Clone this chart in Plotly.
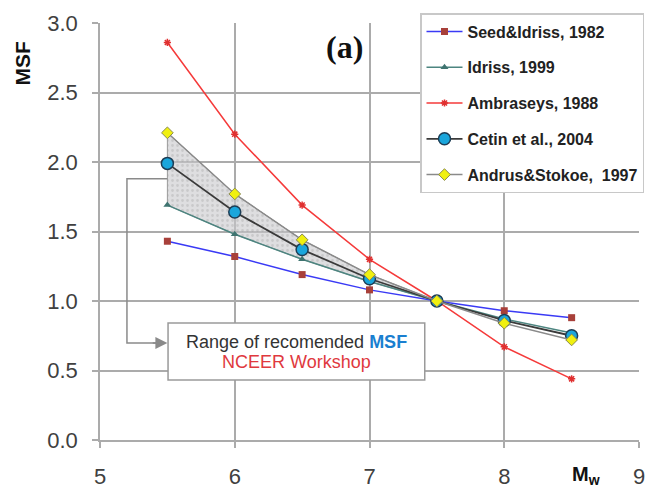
import plotly.graph_objects as go

# Magnitude scaling factor (MSF) versus moment magnitude
mw = [5.5, 6.0, 6.5, 7.0, 7.5, 8.0, 8.5]
seed_idriss_1982 = [1.43, 1.32, 1.19, 1.08, 1.00, 0.93, 0.88]
idriss_1999 = [1.69, 1.48, 1.30, 1.14, 1.00, 0.87, 0.77]
ambraseys_1988 = [2.86, 2.20, 1.69, 1.30, 1.00, 0.67, 0.44]
cetin_2004 = [1.99, 1.64, 1.37, 1.16, 1.00, 0.86, 0.75]
andrus_stokoe_1997 = [2.21, 1.77, 1.44, 1.19, 1.00, 0.84, 0.72]

x_ticks = [5, 6, 7, 8, 9]
y_ticks = [0.0, 0.5, 1.0, 1.5, 2.0, 2.5, 3.0]

FONT = "Arial, 'Liberation Sans', sans-serif"
GRID = "#ababab"

# plot-area geometry in pixels (used to place paper-referenced labels)
L, R, T, B, W, H = 100, 6, 23, 51, 645, 491
PW, PH = W - L - R, H - T - B


def px_to_paper(px, py):
    return (px - L) / PW, (H - B - py) / PH


fig = go.Figure()

# Recommended range band (NCEER workshop): Andrus&Stokoe upper bound, Idriss lower bound up to Mw 7.5
n_band = mw.index(7.5) + 1
band_x = mw[:n_band] + mw[:n_band][::-1] + [mw[0]]
band_y = andrus_stokoe_1997[:n_band] + idriss_1999[:n_band][::-1] + [andrus_stokoe_1997[0]]
fig.add_trace(go.Scatter(
    x=band_x, y=band_y, mode="lines", fill="toself",
    fillcolor="rgba(175,175,178,0.55)",
    fillpattern=dict(shape=".", fgcolor="rgba(140,140,140,0.5)", bgcolor="rgba(200,200,203,0.6)",
                     size=5, solidity=0.25),
    line=dict(color="#9a9a9a", width=1), showlegend=False, hoverinfo="skip",
))

series = [
    ("Seed&Idriss, 1982", seed_idriss_1982, "#3a3af5", 1.5,
     dict(symbol="square", size=7, color="#a8403a", line=dict(width=0))),
    ("Idriss, 1999", idriss_1999, "#4d8580", 1.5,
     dict(symbol="triangle-up", size=7, color="#3f7470", line=dict(width=0))),
    ("Ambraseys, 1988", ambraseys_1988, "#f53a3a", 1.5,
     dict(symbol="asterisk", size=6, color="#e03030", line=dict(width=1.5, color="#e03030"))),
    ("Cetin et al., 2004", cetin_2004, "#3a3a3a", 1.8,
     dict(symbol="circle", size=12, color="#1aa6dc", line=dict(width=1.5, color="#1d3d55"))),
    ("Andrus&Stokoe,  1997", andrus_stokoe_1997, "#8a8a8a", 1.5,
     dict(symbol="diamond", size=9, color="#f0f010", line=dict(width=1, color="#8a8a50"))),
]
for i, (name, ys, lc, lw, mk) in enumerate(series):
    fig.add_trace(go.Scatter(
        x=mw, y=ys, name=name, mode="lines+markers",
        line=dict(color=lc, width=lw), marker=mk, legendgroup=f"g{i}",
    ))

# Callout: elbow connector from the band to the label box
fig.add_shape(type="path", path="M 5.50 1.879 L 5.20 1.879 L 5.20 0.698 L 5.42 0.698",
              line=dict(color="#8a8a8a", width=1.5), layer="above")
fig.add_annotation(x=5.50, y=0.698, ax=5.38, ay=0.698, axref="x", ayref="y",
                   text="", showarrow=True, arrowhead=2, arrowsize=1.5,
                   arrowwidth=1.6, arrowcolor="#8a8a8a")
fig.add_shape(type="rect", x0=5.505, x1=7.41, y0=0.432, y1=0.842,
              line=dict(color="#9a9a9a", width=1.5), fillcolor="white", layer="above")
fig.add_annotation(
    x=6.455, y=0.706, showarrow=False, xanchor="center", yanchor="middle",
    text="Range of recomended <b><span style='color:#1a7fd0'>MSF</span></b>",
    font=dict(family=FONT, size=18, color="#333333"),
)
fig.add_annotation(
    x=6.455, y=0.562, showarrow=False, xanchor="center", yanchor="middle",
    text="NCEER Workshop",
    font=dict(family=FONT, size=18, color="#e0393e"),
)

# Panel label and axis titles
ax_, ay_ = px_to_paper(344, 47)
fig.add_annotation(x=ax_, y=ay_, xref="paper", yref="paper", showarrow=False,
                   xanchor="center", yanchor="middle", text="<b>(a)</b>",
                   font=dict(family="'Liberation Serif', 'Times New Roman', serif", size=32, color="#111111"))
mx, my = px_to_paper(22.5, 63)
fig.add_annotation(x=mx, y=my, xref="paper", yref="paper", showarrow=False, textangle=-90,
                   xanchor="center", yanchor="middle",
                   text="<b>MSF</b>", font=dict(family=FONT, size=21, color="#111111"))
wx, wy = px_to_paper(586, 476)
fig.add_annotation(x=wx, y=wy, xref="paper", yref="paper", showarrow=False,
                   xanchor="center", yanchor="middle",
                   text="<b>M<sub>w</sub></b>", font=dict(family=FONT, size=20, color="#111111"))

axis_common = dict(
    showgrid=True, gridcolor=GRID, gridwidth=1.5,
    showline=True, linecolor=GRID, linewidth=1.5,
    ticks="outside", ticklen=6, tickcolor=GRID, tickwidth=1.5,
    tickfont=dict(family=FONT, size=22, color="#404040"),
    zeroline=False, fixedrange=True, ticklabeloverflow="allow", automargin=False,
)
fig.update_xaxes(range=[5, 9], tickvals=x_ticks, ticktext=[str(v) for v in x_ticks],
                 ticklabelstandoff=10, **axis_common)
fig.update_yaxes(range=[0, 3], tickvals=y_ticks, ticktext=[f"{v:.1f}" for v in y_ticks],
                 ticklabelstandoff=10, **axis_common)

lx, ly = px_to_paper(420, 13)
fig.update_layout(
    width=W, height=H,
    margin=dict(l=L, r=R, t=T, b=B, autoexpand=False),
    plot_bgcolor="white", paper_bgcolor="white",
    font=dict(family=FONT),
    showlegend=True,
    legend=dict(
        x=lx, y=ly, xanchor="left", yanchor="top",
        bgcolor="white", bordercolor="#c8c8c8", borderwidth=1.5,
        font=dict(family=FONT, size=16, color="#222222", weight="bold"),
        traceorder="grouped", tracegroupgap=12, itemwidth=36,
    ),
)

fig.write_html("out.html")
